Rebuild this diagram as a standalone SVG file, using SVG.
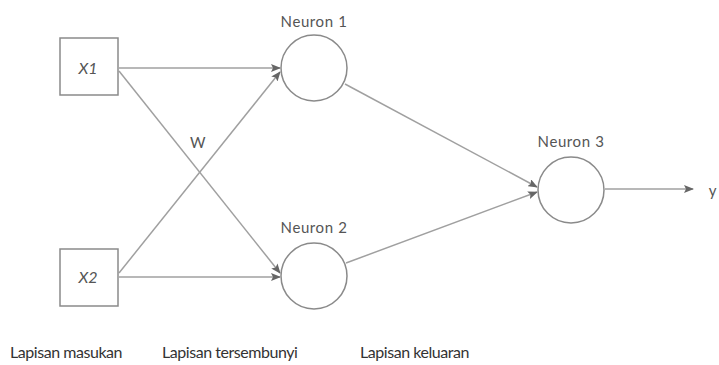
<svg xmlns="http://www.w3.org/2000/svg" width="719" height="365" viewBox="0 0 719 365">
  <style>
    .box { fill: #fff; stroke: #8a8a8a; stroke-width: 1.5; }
    .neuron { fill: #fff; stroke: #8a8a8a; stroke-width: 1.5; }
    .edge { stroke: #a0a0a0; stroke-width: 1.5; fill: none; marker-end: url(#arrow); }
    .lbl { font-family: Lato, "Open Sans", sans-serif; font-size: 15px; letter-spacing: 0.6px; fill: #555; }
    .in { font-family: Lato, "Open Sans", sans-serif; font-size: 16px; font-style: italic; fill: #555; }
    .layer { font-family: Lato, "Open Sans", sans-serif; font-size: 16px; letter-spacing: -0.45px; fill: #333; }
  </style>
  <defs>
    <marker id="arrow" markerWidth="10" markerHeight="8" refX="9" refY="4" orient="auto" markerUnits="userSpaceOnUse">
      <path d="M0,0 L10,4 L0,8 L2,4 Z" fill="#666"/>
    </marker>
  </defs>
  <rect width="719" height="365" fill="#fff"/>

  <g id="connectors">
    <line class="edge" x1="119" y1="68" x2="280" y2="68"/>
    <line class="edge" x1="119" y1="71" x2="280" y2="273"/>
    <line class="edge" x1="119" y1="277" x2="280" y2="277"/>
    <line class="edge" x1="119" y1="273" x2="280" y2="72"/>
    <line class="edge" x1="345" y1="84" x2="537" y2="187"/>
    <line class="edge" x1="346" y1="263" x2="537" y2="192"/>
    <line class="edge" x1="605" y1="189" x2="693" y2="189"/>
  </g>

  <g id="x1">
    <rect class="box" x="60" y="38" width="58" height="57"/>
    <text class="in" x="88" y="74" text-anchor="middle">X1</text>
  </g>
  <g id="x2">
    <rect class="box" x="60" y="249" width="58" height="57"/>
    <text class="in" x="88" y="283" text-anchor="middle">X2</text>
  </g>
  <g id="neuron1">
    <circle class="neuron" cx="314" cy="68" r="33"/>
    <text class="lbl" x="314" y="27" text-anchor="middle">Neuron 1</text>
  </g>
  <g id="neuron2">
    <circle class="neuron" cx="314" cy="276" r="33"/>
    <text class="lbl" x="314" y="233" text-anchor="middle">Neuron 2</text>
  </g>
  <g id="neuron3">
    <circle class="neuron" cx="571" cy="190" r="33"/>
    <text class="lbl" x="571" y="147" text-anchor="middle">Neuron 3</text>
  </g>
  <g id="labels">
    <text class="lbl" x="198" y="148" text-anchor="middle" font-size="16">W</text>
    <text class="lbl" x="713" y="196" text-anchor="middle" font-size="18">y</text>
    <text class="layer" x="10" y="358">Lapisan masukan</text>
    <text class="layer" x="162" y="358">Lapisan tersembunyi</text>
    <text class="layer" x="360" y="358">Lapisan keluaran</text>
  </g>
</svg>
